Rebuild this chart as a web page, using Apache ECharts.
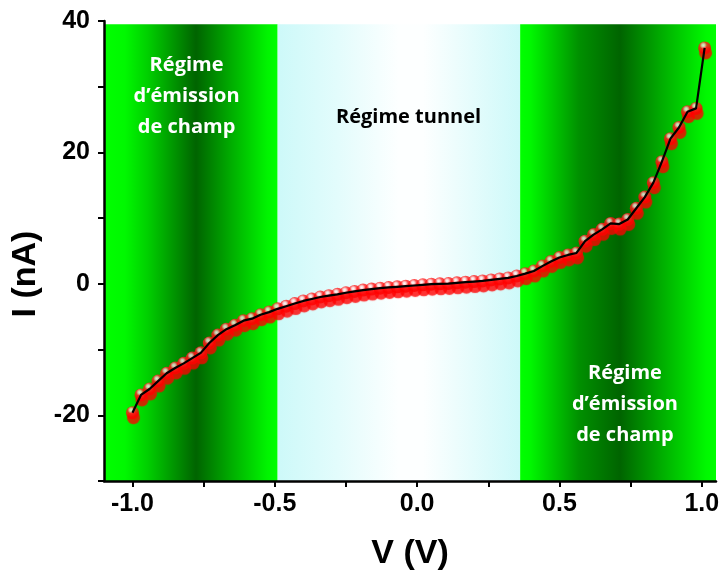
<!DOCTYPE html>
<html><head><meta charset="utf-8">
<script src="https://cdn.jsdelivr.net/npm/echarts@6/dist/echarts.min.js"></script>
<style>html,body{margin:0;padding:0;background:#fff}#c{width:725px;height:579px}</style>
</head><body><div id="c"></div>
<script>
// ---- data ----
const voltage = [-1.00,-0.97,-0.94,-0.91,-0.88,-0.85,-0.82,-0.79,-0.76,-0.73,-0.70,-0.67,-0.64,-0.61,-0.58,-0.55,-0.52,-0.49,-0.46,-0.43,-0.40,-0.37,-0.34,-0.31,-0.28,-0.25,-0.22,-0.19,-0.16,-0.13,-0.10,-0.07,-0.04,-0.01,0.02,0.05,0.08,0.11,0.14,0.17,0.20,0.23,0.26,0.29,0.32,0.35,0.38,0.41,0.44,0.47,0.50,0.53,0.56,0.59,0.62,0.65,0.68,0.71,0.74,0.77,0.80,0.83,0.86,0.89,0.92,0.95,0.98,1.01];
const current = [-19.6,-16.9,-16.0,-14.8,-13.6,-12.8,-12.1,-11.3,-10.5,-9.0,-7.8,-6.9,-6.3,-5.6,-5.3,-4.7,-4.3,-3.8,-3.4,-3.0,-2.6,-2.3,-2.0,-1.8,-1.6,-1.35,-1.15,-0.95,-0.8,-0.65,-0.55,-0.45,-0.35,-0.25,-0.15,-0.05,0.0,0.05,0.15,0.25,0.35,0.45,0.6,0.75,0.9,1.2,1.55,1.95,2.7,3.4,4.0,4.4,4.7,6.5,7.5,8.3,9.2,9.1,9.8,11.5,13.2,15.4,18.6,22.1,23.8,26.2,26.7,35.9];
const xTickLabels = [-1.0, -0.5, 0.0, 0.5, 1.0];
const xTicks = [-1.0, -0.75, -0.5, -0.25, 0.0, 0.25, 0.5, 0.75, 1.0];
const yTickLabels = [-20, 0, 20, 40];
const yTicks = [-30, -20, -10, 0, 10, 20, 30, 40];
const regionBounds = [-1.1, -0.49, 0.362, 1.05];
const regionTop = 39.5;
const regionNames = ['Régime\nd’émission\nde champ', 'Régime tunnel', 'Régime\nd’émission\nde champ'];
const labelAnchors = [[-0.81, 28.6], [-0.03, 25.3], [0.73, -18.3]];

// ---- chart ----
const G = echarts.graphic.LinearGradient;
const leftGreen = new G(0,0,1,0,[{offset:0,color:'#00ff00'},{offset:0.12,color:'#00f800'},{offset:0.25,color:'#00d000'},{offset:0.53,color:'#006400'},{offset:0.74,color:'#00b000'},{offset:0.94,color:'#00f400'},{offset:1,color:'#00ff00'}]);
const tunnelFill = new G(0,0,1,0,[{offset:0,color:'#cdf9f9'},{offset:0.25,color:'#e3fcfc'},{offset:0.5,color:'#fdffff'},{offset:0.6,color:'#fdffff'},{offset:1,color:'#cdf9f9'}]);
const rightGreen = new G(0,0,1,0,[{offset:0,color:'#00ff00'},{offset:0.05,color:'#00f800'},{offset:0.3,color:'#009000'},{offset:0.51,color:'#006400'},{offset:0.73,color:'#00b000'},{offset:0.95,color:'#00f800'},{offset:1,color:'#00ff00'}]);
const fills = [leftGreen, tunnelFill, rightGreen];

const pts = voltage.map((v,i)=>[v,current[i]]);
const areas = [];
for (let i=0;i<3;i++){
  areas.push([{xAxis:regionBounds[i], yAxis:-30, itemStyle:{color:fills[i]}},{xAxis:regionBounds[i+1], yAxis:regionTop}]);
}
const font = 'Liberation Sans, Arial, sans-serif';
const chart = echarts.init(document.getElementById('c'), null, {renderer:'canvas'});
chart.setOption({
  animation:false,
  backgroundColor:'#ffffff',
  grid:{left:104, top:21, right:9, bottom:98, containLabel:false},
  xAxis:{
    type:'value', min:-1.1, max:1.05,
    name:'V (V)', nameLocation:'middle', nameGap:56,
    nameTextStyle:{fontFamily:font, fontWeight:'bold', fontSize:34, color:'#000'},
    axisLine:{show:true, onZero:false, lineStyle:{color:'#000', width:2.5}},
    axisTick:{show:true, customValues:xTicks, length:6, inside:false, lineStyle:{color:'#000', width:2}},
    axisLabel:{customValues:xTickLabels, formatter:v=>Number(v).toFixed(1), margin:11, fontFamily:font, fontWeight:'bold', fontSize:25, color:'#000'},
    splitLine:{show:false}
  },
  yAxis:{
    type:'value', min:-30, max:40,
    name:'I (nA)', nameLocation:'middle', nameGap:54, nameRotate:90,
    nameTextStyle:{fontFamily:font, fontWeight:'bold', fontSize:34, color:'#000', padding:[0,46,0,0]},
    axisLine:{show:true, onZero:false, lineStyle:{color:'#000', width:2.5}},
    axisTick:{show:true, customValues:yTicks, length:6, inside:false, lineStyle:{color:'#000', width:2}},
    axisLabel:{customValues:yTickLabels, margin:14, fontFamily:font, fontWeight:'bold', fontSize:25, color:'#000'},
    splitLine:{show:false}
  },
  series:[
    {type:'scatter', data:pts, symbol:'circle', symbolSize:13, z:2, silent:true,
     itemStyle:{color:new echarts.graphic.RadialGradient(0.4,0.3,0.55,[{offset:0,color:'#ffffff'},{offset:0.22,color:'#ffc8c8'},{offset:0.5,color:'#ff2020'},{offset:1,color:'#ff0000'}]),
       shadowColor:'#ff0000', shadowBlur:1, shadowOffsetX:1, shadowOffsetY:5},
     markArea:{silent:true, z:0, data:areas}
    },
    {type:'line', data:pts, showSymbol:false, z:3, silent:true,
     lineStyle:{color:'#000', width:2.2}}
  ]
});
const textGraphics = regionNames.map((t,i)=>{
  const p = chart.convertToPixel({gridIndex:0}, labelAnchors[i]);
  return {type:'text', x:p[0], y:p[1], z:10, silent:true,
    style:{text:t, fill: i===1?'#000':'#fff', fontFamily:'Open Sans, Lato, sans-serif', fontWeight:'bold', fontSize:20, lineHeight:31, align:'center', verticalAlign:'middle'}};
});
chart.setOption({graphic:textGraphics});
</script>
</body></html>
